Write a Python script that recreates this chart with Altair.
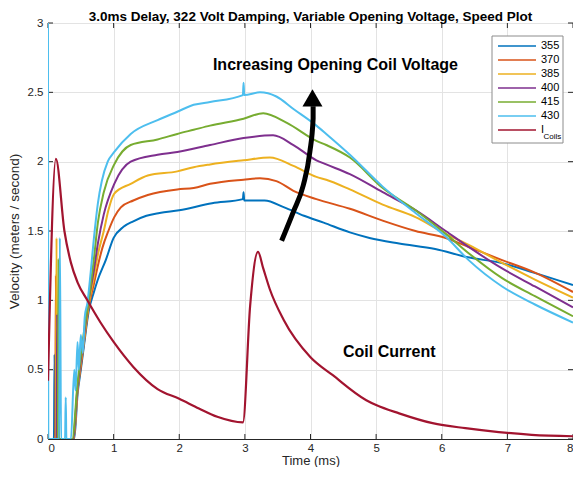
import altair as alt
import pandas as pd

# ---------------- data ----------------
series_names = ["355", "370", "385", "400", "415", "430", "I_Coils"]
series_colors = ["#0072BD", "#D95319", "#EDB120", "#7E2F8E", "#77AC30", "#4DBEEE", "#A2142F"]

t_355 = [0, 0.09, 0.10, 0.11, 0.40, 0.45, 0.50, 0.55, 0.62, 0.70, 0.76, 0.88, 1.0, 1.15, 1.3, 1.5,
         1.7, 2.0, 2.5, 2.97, 2.98, 2.99, 3.3, 3.6, 3.9, 4.2, 4.6, 4.9, 5.35, 5.9, 6.4, 6.9, 7.4, 8.0]
v_355 = [0, 0, 0.61, 0, 0, 0.32, 0.50, 0.68, 0.92, 1.06, 1.15, 1.29, 1.45, 1.53, 1.57, 1.61,
         1.63, 1.65, 1.70, 1.73, 1.78, 1.72, 1.72, 1.67, 1.61, 1.56, 1.49, 1.45, 1.41, 1.37, 1.31, 1.27, 1.20, 1.11]

t_370 = [0, 0.11, 0.12, 0.13, 0.39, 0.45, 0.50, 0.55, 0.62, 0.70, 0.76, 0.83, 0.92, 1.01, 1.11, 1.3,
         1.52, 1.97, 2.22, 2.47, 2.98, 3.23, 3.48, 3.74, 4.09, 4.6, 5.1, 5.6, 6.06, 6.41, 6.92, 7.42, 8.0]
v_370 = [0, 0, 1.18, 0, 0, 0.35, 0.52, 0.70, 0.95, 1.12, 1.25, 1.38, 1.50, 1.60, 1.67, 1.72,
         1.76, 1.80, 1.81, 1.84, 1.87, 1.88, 1.86, 1.79, 1.73, 1.66, 1.575, 1.50, 1.45, 1.385, 1.29, 1.20, 1.06]

t_385 = [0, 0.12, 0.13, 0.14, 0.39, 0.45, 0.50, 0.55, 0.62, 0.70, 0.76, 0.85, 0.92, 1.01, 1.26, 1.52,
         1.97, 2.22, 2.47, 2.98, 3.38, 3.74, 4.09, 4.24, 4.6, 5.1, 5.6, 6.06, 6.41, 6.92, 7.42, 8.0]
v_385 = [0, 0, 1.45, 0, 0, 0.35, 0.55, 0.72, 0.97, 1.17, 1.33, 1.50, 1.65, 1.77, 1.84, 1.90,
         1.93, 1.96, 1.98, 2.01, 2.03, 1.97, 1.89, 1.87, 1.80, 1.69, 1.60, 1.48, 1.40, 1.27, 1.15, 1.02]

t_400 = [0, 0.13, 0.14, 0.15, 0.38, 0.45, 0.50, 0.55, 0.62, 0.70, 0.76, 0.85, 1.01, 1.26, 1.67, 1.97,
         2.47, 2.98, 3.43, 3.74, 4.09, 4.24, 4.6, 5.1, 5.6, 6.06, 6.41, 6.92, 7.42, 8.0]
v_400 = [0, 0, 0.90, 0, 0, 0.37, 0.57, 0.75, 1.00, 1.22, 1.41, 1.62, 1.84, 2.00, 2.05, 2.07,
         2.12, 2.17, 2.19, 2.12, 2.01, 1.98, 1.91, 1.78, 1.65, 1.50, 1.385, 1.23, 1.10, 0.95]

t_415 = [0, 0.15, 0.16, 0.17, 0.37, 0.45, 0.50, 0.55, 0.62, 0.70, 0.76, 0.85, 1.01, 1.26, 1.67, 1.97,
         2.22, 2.47, 2.98, 3.28, 3.64, 4.09, 4.24, 4.6, 5.1, 5.6, 6.06, 6.41, 6.92, 7.42, 8.0]
v_415 = [0, 0, 1.30, 0, 0, 0.40, 0.60, 0.78, 1.00, 1.30, 1.56, 1.78, 1.98, 2.12, 2.16, 2.20,
         2.23, 2.26, 2.31, 2.35, 2.28, 2.15, 2.12, 2.03, 1.81, 1.65, 1.48, 1.34, 1.16, 1.03, 0.885]

t_430 = [0, 0.005, 0.17, 0.18, 0.20, 0.26, 0.27, 0.28, 0.35, 0.40, 0.42, 0.45, 0.47, 0.50, 0.53, 0.56,
         0.60, 0.65, 0.70, 0.76, 0.82, 0.91, 1.01, 1.26, 1.67, 1.97, 2.22, 2.47, 2.97, 2.98, 2.99, 3.23,
         3.48, 3.74, 4.09, 4.24, 4.6, 5.1, 5.6, 6.06, 6.41, 6.92, 7.42, 8.0]
v_430 = [3.0, 0, 0, 1.45, 0, 0, 0.30, 0, 0, 0.50, 0.35, 0.70, 0.50, 0.75, 0.62, 0.88,
         0.98, 1.20, 1.45, 1.70, 1.86, 2.00, 2.07, 2.20, 2.30, 2.36, 2.41, 2.43, 2.48, 2.57, 2.48, 2.50,
         2.47, 2.38, 2.26, 2.20, 2.05, 1.82, 1.63, 1.46, 1.29, 1.10, 0.97, 0.84]

t_coil = [0, 0.12, 0.25, 0.35, 0.45, 0.6, 0.8, 1.0, 1.3, 1.67, 2.0, 2.3, 2.58, 2.97, 3.08, 3.2,
          3.28, 3.38, 3.59, 4.0, 4.34, 4.85, 5.0, 5.35, 5.86, 6.36, 6.87, 7.37, 8.0]
v_coil = [0.42, 2.02, 1.50, 1.27, 1.13, 1.00, 0.84, 0.70, 0.52, 0.36, 0.29, 0.22, 0.16, 0.12, 0.96, 1.35,
          1.23, 1.08, 0.86, 0.59, 0.46, 0.28, 0.245, 0.185, 0.114, 0.078, 0.05, 0.03, 0.02]

x_ticks = [0, 1, 2, 3, 4, 5, 6, 7, 8]
y_ticks = [0, 0.5, 1, 1.5, 2, 2.5, 3]

ann_text = ["Increasing Opening Coil Voltage", "Coil Current"]
ann_t = [4.38, 5.20]
ann_v = [2.70, 0.626]

arrow_t = [3.56, 3.74, 3.89, 3.99, 4.04, 4.04]
arrow_v = [1.43, 1.64, 1.83, 2.07, 2.31, 2.40]
head_t = [4.03]
head_v = [2.46]

# ---------------- tables ----------------
rows = []
for name, ts, vs in [("355", t_355, v_355), ("370", t_370, v_370), ("385", t_385, v_385),
                     ("400", t_400, v_400), ("415", t_415, v_415), ("430", t_430, v_430),
                     ("I_Coils", t_coil, v_coil)]:
    for i, (t, v) in enumerate(zip(ts, vs)):
        rows.append({"series": name, "t": t, "v": v, "i": i})
df = pd.DataFrame(rows)

df_xt = pd.DataFrame({"t": x_ticks})
df_yt = pd.DataFrame({"v": y_ticks})
df_ann = pd.DataFrame({"label": ann_text, "t": ann_t, "v": ann_v})
df_arrow = pd.DataFrame({"t": arrow_t, "v": arrow_v, "i": list(range(len(arrow_t)))})
df_head = pd.DataFrame({"t": head_t, "v": head_v})
df_one = pd.DataFrame({"s": ["Coils"]})

W, H = 525, 416
LX = 444  # legend left edge inside the plot
FONT = "Liberation Sans"
INK = "#262626"
GRID = "#E3E3E3"

x_scale = alt.Scale(domain=[0, 8], nice=False, zero=False)
y_scale = alt.Scale(domain=[0, 3], nice=False, zero=False)

x_axis = alt.Axis(values=x_ticks, grid=True, gridColor=GRID, ticks=False, domainColor=INK,
                  labelFontSize=11.5, labelColor=INK, labelPadding=3, labelFont=FONT,
                  title="Time (ms)", titleFontSize=13, titleFontWeight="normal", titleColor=INK,
                  titleFont=FONT, titleY=21.5, titleBaseline="middle")
y_axis = alt.Axis(values=y_ticks, grid=True, gridColor=GRID, ticks=False, domainColor=INK,
                  labelFontSize=11.5, labelColor=INK, labelPadding=5, labelFont=FONT, format="~g",
                  title="Velocity (meters / second)", titleFontSize=13.5, titleFontWeight="normal",
                  titleColor=INK, titleFont=FONT, titleX=-34, titleY=H / 2,
                  titleAlign="center", titleBaseline="middle")

X = alt.X("t:Q", scale=x_scale, axis=x_axis)
Y = alt.Y("v:Q", scale=y_scale, axis=y_axis)

color = alt.Color(
    "series:N",
    scale=alt.Scale(domain=series_names, range=series_colors),
    legend=alt.Legend(
        title=None, orient="none", legendX=LX, legendY=11,
        symbolType="stroke", symbolSize=1444, symbolStrokeWidth=1.6, clipHeight=14, rowPadding=0,
        labelFontSize=11, labelColor="#000000", labelFont=FONT, padding=5, labelOffset=4,
        labelExpr="datum.label == 'I_Coils' ? 'I' : datum.label",
    ),
)

# white legend box drawn under the legend entries (covers the grid)
legend_box = alt.Chart(df_one).mark_rect(fill="#FFFFFF", stroke="#8C8C8C", strokeWidth=1).encode(
    x=alt.value(LX), x2=alt.value(LX + 71), y=alt.value(13), y2=alt.value(120))

base = alt.Chart(df)
speed = base.transform_filter(alt.datum.series != "I_Coils").mark_line(
    strokeWidth=2, clip=True, interpolate="monotone"
).encode(x=X, y=Y, color=color, order="i:Q", detail="series:N")

coil = base.transform_filter(alt.datum.series == "I_Coils").mark_line(
    strokeWidth=2.2, clip=True, interpolate="monotone"
).encode(x=X, y=Y, color=color, order="i:Q")

tick_style = dict(color=INK, strokeWidth=1)
t_bottom = alt.Chart(df_xt).mark_rule(**tick_style).encode(x=X, y=alt.value(H), y2=alt.value(H - 5))
t_top = alt.Chart(df_xt).mark_rule(**tick_style).encode(x=X, y=alt.value(0), y2=alt.value(5))
t_left = alt.Chart(df_yt).mark_rule(**tick_style).encode(y=Y, x=alt.value(0), x2=alt.value(5))
t_right = alt.Chart(df_yt).mark_rule(**tick_style).encode(y=Y, x=alt.value(W), x2=alt.value(W - 5))

ann = alt.Chart(df_ann).mark_text(fontSize=16, fontWeight="bold", font=FONT, color="#000000").encode(
    x=X, y=Y, text="label:N")

arrow = alt.Chart(df_arrow).mark_line(color="#000000", strokeWidth=5, interpolate="monotone",
                                      strokeCap="butt").encode(x=X, y=Y, order="i:Q")
head = alt.Chart(df_head).mark_point(shape="triangle-up", size=400, filled=True, opacity=1,
                                     color="#000000").encode(x=X, y=Y)

sub = alt.Chart(df_one).mark_text(
    fontSize=8, font=FONT, color="#000000", align="left", baseline="middle"
).encode(x=alt.value(LX + 51.5), y=alt.value(114), text="s:N")

chart = alt.layer(
    t_bottom, t_top, t_left, t_right, legend_box, speed, coil, arrow, head, ann, sub
).properties(
    width=W, height=H,
    title=alt.TitleParams("3.0ms Delay, 322 Volt Damping, Variable Opening Voltage, Speed Plot",
                          fontSize=13.5, fontWeight="bold", font=FONT, color="#000000",
                          offset=-6, anchor="middle", frame="group"),
    padding={"left": 40, "top": 15, "right": 0, "bottom": 28},
    autosize=alt.AutoSizeParams(type="none"),
).configure_view(stroke=INK, strokeWidth=1).configure(font=FONT)

chart.save("out.html", embed_options={"renderer": "svg", "actions": False})
